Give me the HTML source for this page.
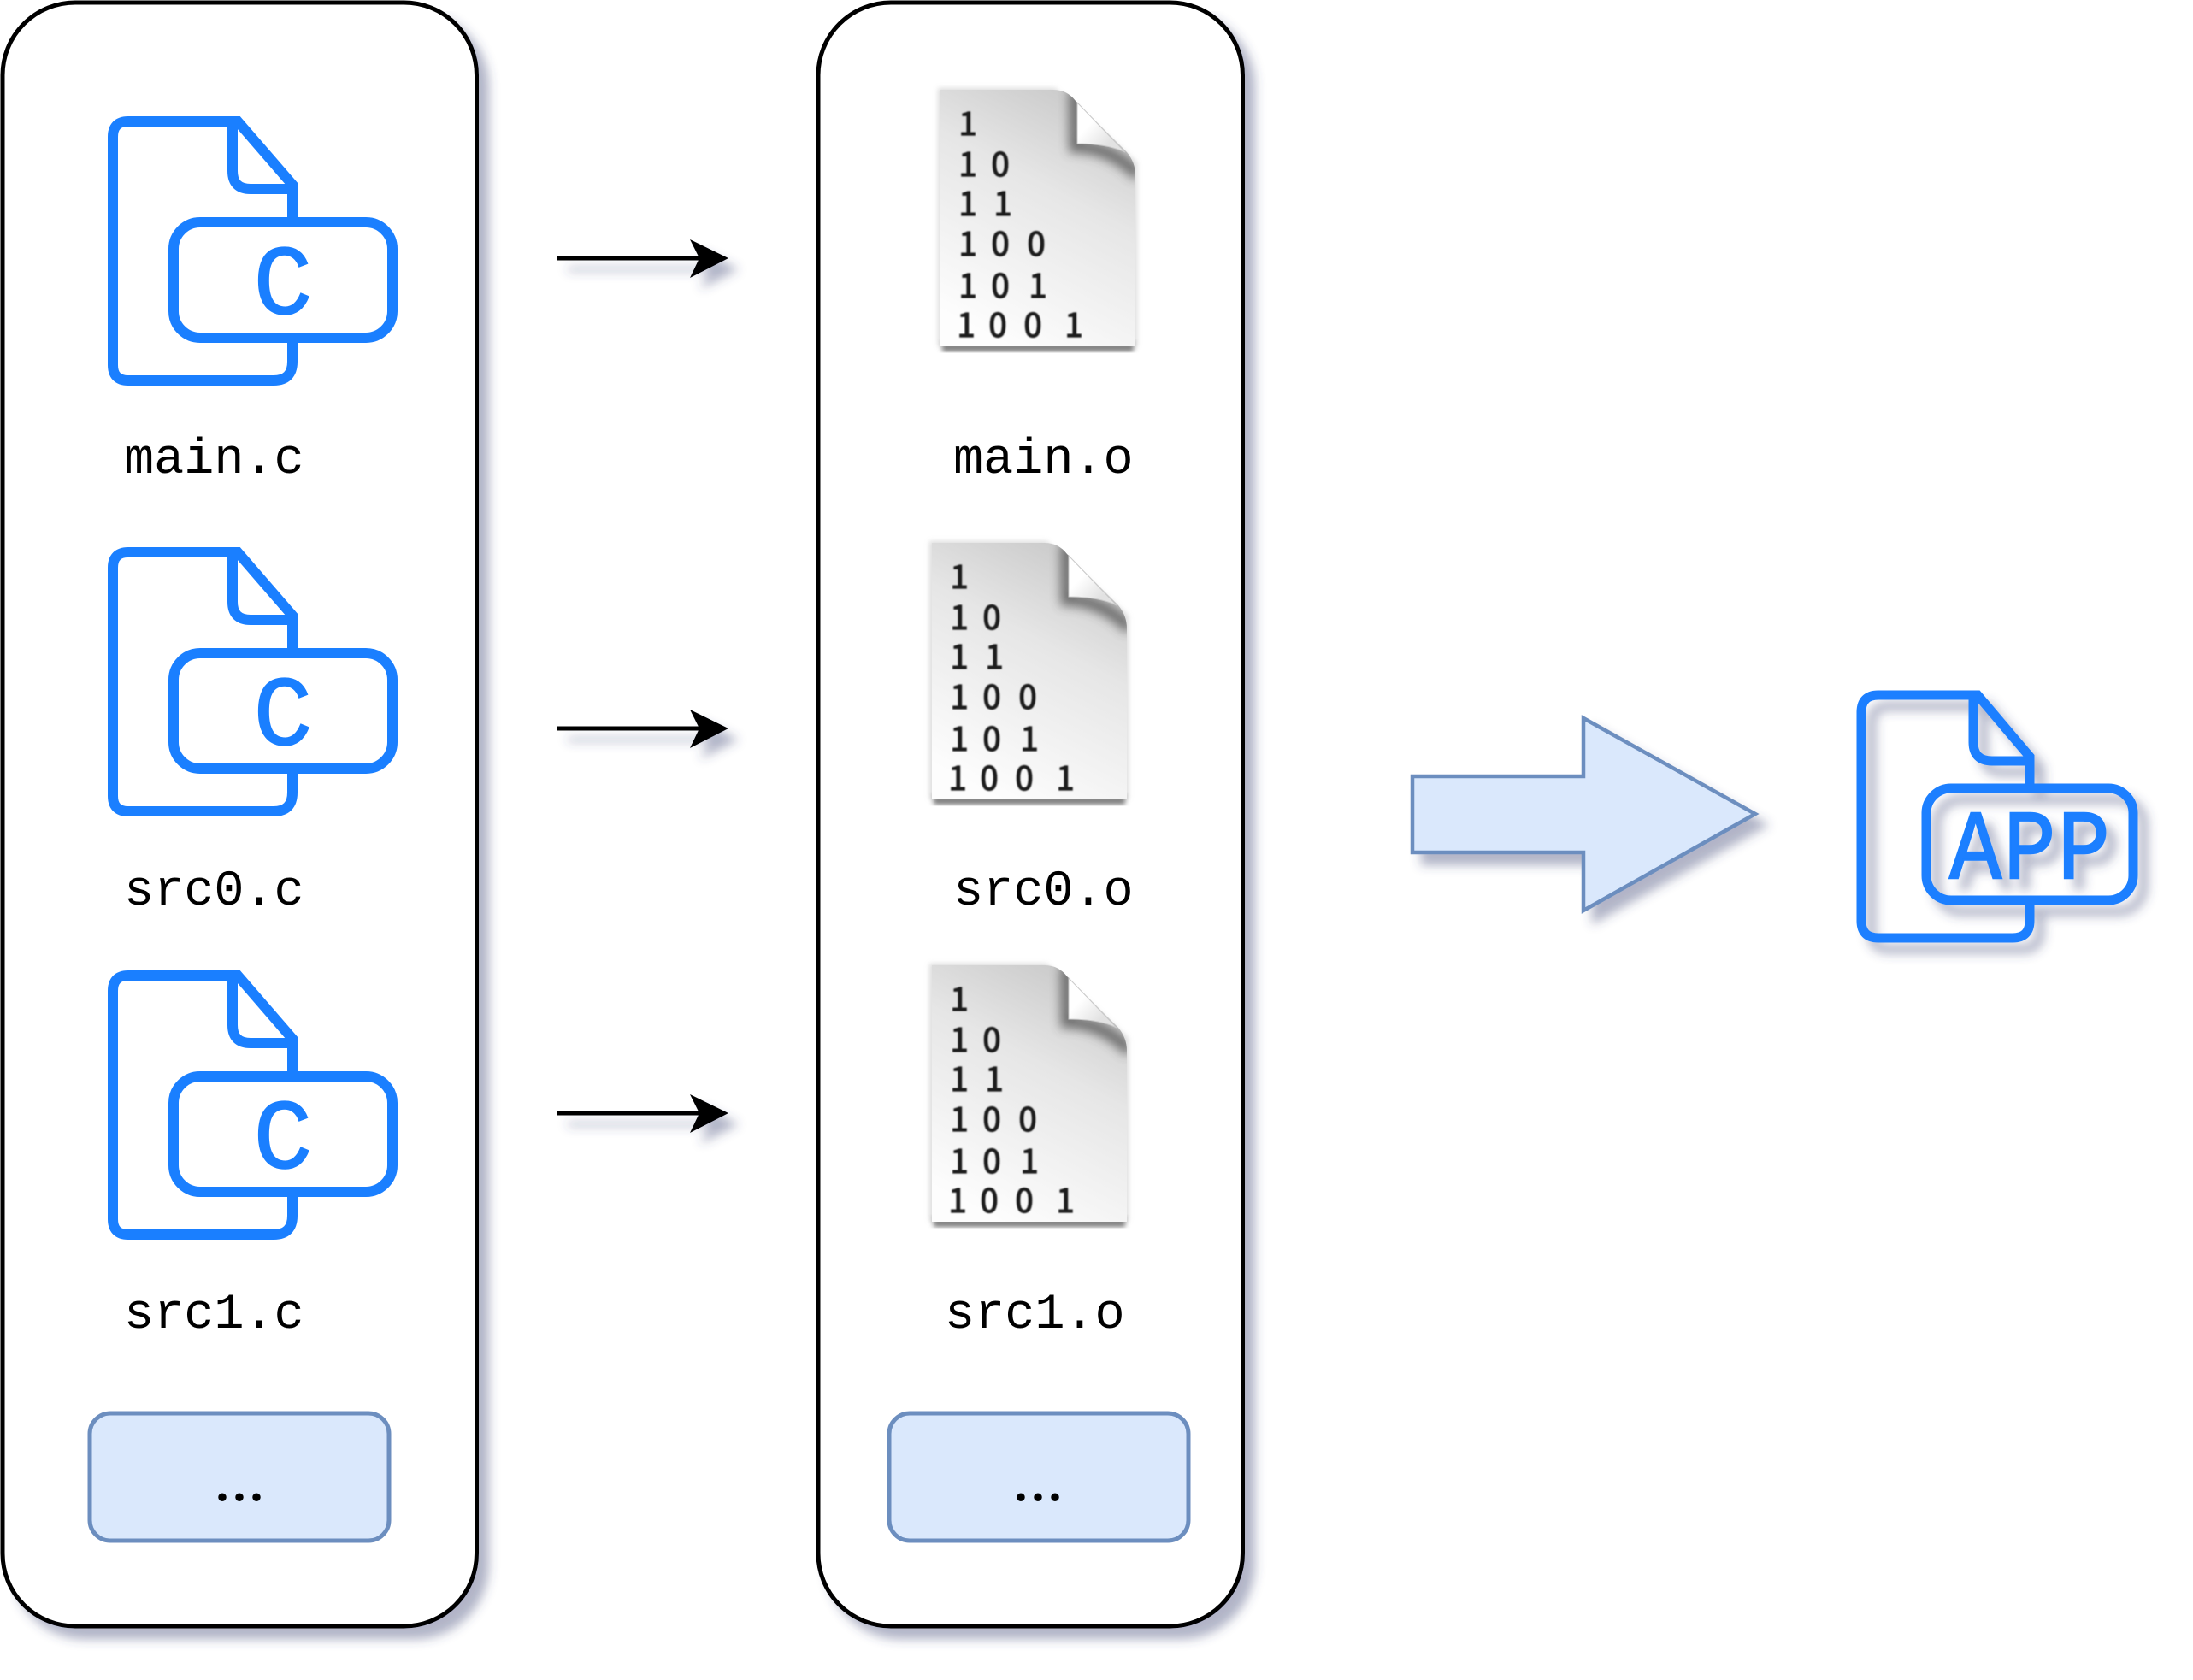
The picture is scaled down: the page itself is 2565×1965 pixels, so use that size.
<!DOCTYPE html>
<html><head><meta charset="utf-8"><style>
html,body{margin:0;padding:0;background:#fff}
svg{display:block}
.m{font-family:"Liberation Mono",monospace;font-size:58.5px;fill:#000}
.d{font-family:"Noto Sans CJK JP","Liberation Sans",sans-serif;font-size:38px;fill:#1a1a1a;stroke:#1a1a1a;stroke-width:1.300;text-anchor:middle}
.e{font-family:"Liberation Serif",serif;font-size:80px;fill:#000;text-anchor:middle}
.i{fill:none;stroke:#1a7fff;stroke-width:12}
.j{fill:none;stroke:#1a7fff;stroke-width:11}
.l{font-family:"Liberation Mono",monospace;fill:#1a7fff;stroke:#1a7fff;text-anchor:middle}
</style></head><body>
<svg width="2565" height="1965" viewBox="0 0 2565 1965" xmlns="http://www.w3.org/2000/svg">
<defs>
<filter id="s" filterUnits="userSpaceOnUse" x="0" y="0" width="2565" height="1965">
<feGaussianBlur in="SourceAlpha" stdDeviation="6"/><feOffset dx="12" dy="13" result="b"/>
<feFlood flood-color="#3d4574" flood-opacity="0.4"/><feComposite in2="b" operator="in"/>
<feMerge><feMergeNode/><feMergeNode in="SourceGraphic"/></feMerge>
</filter>
<filter id="b1" x="-20%" y="-20%" width="140%" height="140%"><feGaussianBlur stdDeviation="0.7"/></filter>
<filter id="b5" x="-30%" y="-30%" width="160%" height="160%"><feGaussianBlur stdDeviation="6"/></filter>
<filter id="b3" x="-10%" y="-10%" width="120%" height="120%"><feGaussianBlur stdDeviation="3"/></filter>
<linearGradient id="g" x1="0.75" y1="0" x2="0.35" y2="1">
<stop offset="0" stop-color="#c8c8c8"/><stop offset="0.4" stop-color="#e6e6e6"/><stop offset="1" stop-color="#fdfdfd"/>
</linearGradient>
<linearGradient id="f" x1="0" y1="0" x2="1" y2="1"><stop offset="0.35" stop-color="#fff"/><stop offset="0.75" stop-color="#e2e2e2"/></linearGradient>
<clipPath id="dc"><path d="M1100 105H1232Q1248 105 1258 118L1318 178Q1328 190 1328 205V405H1100Z"/></clipPath>
<g id="doc">
<rect x="1102" y="398" width="224" height="13" fill="#777" filter="url(#b3)"/>
<path d="M1097 103H1234L1330 190V405H1097Z" fill="#bbb" opacity=".5" filter="url(#b3)"/>
<path d="M1100 105H1232Q1248 105 1258 118L1318 178Q1328 190 1328 205V405H1100Z" fill="url(#g)"/>
<g clip-path="url(#dc)"><path d="M1258 105V171Q1300 172 1332 205" fill="none" stroke="#4a4a4a" stroke-width="15" opacity=".75" filter="url(#b5)"/></g>
<path d="M1260 120V168Q1295 168 1316 178Z" fill="url(#f)" stroke="#c9c9c9" stroke-width="1"/>
</g>
</defs>
<rect width="2565" height="1965" fill="#fff"/>

<rect x="3" y="3" width="554.500" height="1899" rx="85" fill="#fff" stroke="#000" stroke-width="5" filter="url(#s)"/>
<rect x="957" y="3" width="496.500" height="1899" rx="85" fill="#fff" stroke="#000" stroke-width="5" filter="url(#s)"/>

<!-- C icons -->
<g class="i"><path d="M342 260V216L278 142H150Q132 142 132 160V427Q132 445 150 445H320Q342 445 342 423V395M272 142V200Q272 221 293 221H342"/><rect x="203" y="260" width="256" height="135" rx="31"/></g>
<text class="l" x="331" y="367" font-size="116" stroke-width="1.500">C</text>
<g class="i" transform="translate(0,504)"><path d="M342 260V216L278 142H150Q132 142 132 160V427Q132 445 150 445H320Q342 445 342 423V395M272 142V200Q272 221 293 221H342"/><rect x="203" y="260" width="256" height="135" rx="31"/></g>
<text class="l" x="331" y="871" font-size="116" stroke-width="1.500">C</text>
<g class="i" transform="translate(0,999)"><path d="M342 260V216L278 142H150Q132 142 132 160V427Q132 445 150 445H320Q342 445 342 423V395M272 142V200Q272 221 293 221H342"/><rect x="203" y="260" width="256" height="135" rx="31"/></g>
<text class="l" x="331" y="1366" font-size="116" stroke-width="1.500">C</text>

<text class="m" x="145" y="553">main.c</text>
<text class="m" x="145" y="1058">src0.c</text>
<text class="m" x="145" y="1553">src1.c</text>
<text class="m" x="1115" y="553">main.o</text>
<text class="m" x="1115" y="1058">src0.o</text>
<text class="m" x="1105" y="1553">src1.o</text>

<!-- binary docs -->
<g>
<use href="#doc"/>
<g filter="url(#b1)">
<text class="d" y="158" x="1132">1</text>
<text class="d" y="206" x="1132 1170">10</text>
<text class="d" y="252" x="1132 1173">11</text>
<text class="d" y="299" x="1132 1170 1212">100</text>
<text class="d" y="348" x="1132 1170 1214">101</text>
<text class="d" y="394" x="1130 1167 1208 1256">1001</text>
</g>
</g>
<g transform="translate(-10,530)">
<use href="#doc"/>
<g filter="url(#b1)">
<text class="d" y="158" x="1132">1</text>
<text class="d" y="206" x="1132 1170">10</text>
<text class="d" y="252" x="1132 1173">11</text>
<text class="d" y="299" x="1132 1170 1212">100</text>
<text class="d" y="348" x="1132 1170 1214">101</text>
<text class="d" y="394" x="1130 1167 1208 1256">1001</text>
</g>
</g>
<g transform="translate(-10,1024)">
<use href="#doc"/>
<g filter="url(#b1)">
<text class="d" y="158" x="1132">1</text>
<text class="d" y="206" x="1132 1170">10</text>
<text class="d" y="252" x="1132 1173">11</text>
<text class="d" y="299" x="1132 1170 1212">100</text>
<text class="d" y="348" x="1132 1170 1214">101</text>
<text class="d" y="394" x="1130 1167 1208 1256">1001</text>
</g>
</g>

<!-- boxes -->
<rect x="105" y="1653" width="350" height="149" rx="24" fill="#dae8fc" stroke="#6c8ebf" stroke-width="5"/>
<text class="e" x="280" y="1755">...</text>
<rect x="1040" y="1653" width="350" height="149" rx="24" fill="#dae8fc" stroke="#6c8ebf" stroke-width="5"/>
<text class="e" x="1214" y="1755">...</text>

<!-- arrows -->
<g filter="url(#s)"><path d="M652 302H820" stroke="#000" stroke-width="5" fill="none"/><path d="M807 280L852 302L807 325L818 302Z"/></g>
<g filter="url(#s)"><path d="M652 852H820" stroke="#000" stroke-width="5" fill="none"/><path d="M807 830L852 852L807 875L818 852Z"/></g>
<g filter="url(#s)"><path d="M652 1302H820" stroke="#000" stroke-width="5" fill="none"/><path d="M807 1280L852 1302L807 1325L818 1302Z"/></g>

<!-- big arrow -->
<path d="M1652 908H1852V840L2053 952L1852 1065V997H1652Z" fill="#dae8fc" stroke="#6c8ebf" stroke-width="4.500" filter="url(#s)"/>

<!-- APP icon -->
<g filter="url(#s)">
<g class="j"><path d="M2374 922V885L2313 813H2197Q2177 813 2177 833V1077Q2177 1097 2197 1097H2354Q2374 1097 2374 1077V1053M2308 813V868Q2308 890 2330 890H2374"/><rect x="2253" y="922" width="242" height="131" rx="29"/></g>
<text class="l" font-size="115" stroke-width="2.500" y="1027" transform="translate(2374,0) scale(.88,1)" x="-72 0 72">APP</text>
</g>
</svg>
</body></html>
